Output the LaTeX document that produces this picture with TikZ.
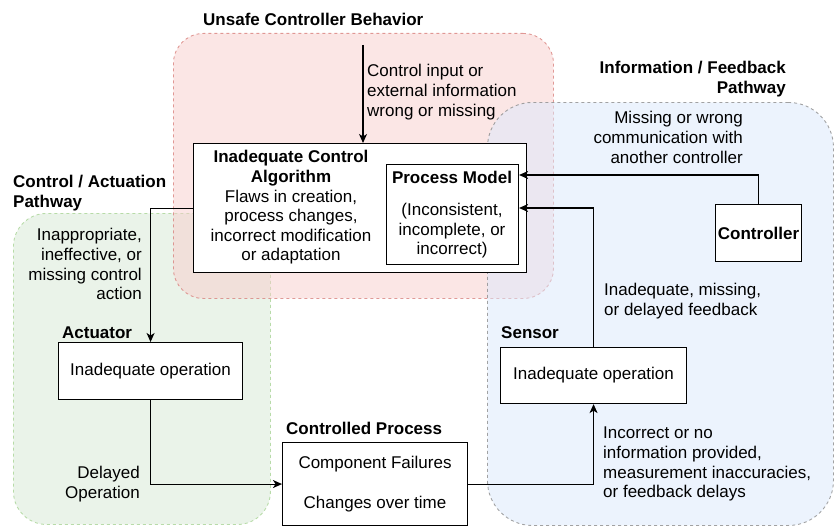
\documentclass[tikz,border=0pt]{standalone}
\usepackage{fontspec}
\setmainfont{Liberation Sans}
\usetikzlibrary{arrows.meta}
\definecolor{redfill}{HTML}{F8CECC}
\definecolor{redline}{HTML}{D9827E}
\definecolor{greenfill}{HTML}{D5E8D4}
\definecolor{greenline}{HTML}{A9D496}
\definecolor{bluefill}{HTML}{DAE8FC}
\definecolor{blueline}{HTML}{8C8C8C}
\newcommand\dfont{\fontsize{17}{19.6}\selectfont}
\begin{document}
\begin{tikzpicture}[x=1pt,y=-1pt,
  region/.style={rectangle, inner sep=0pt, dash pattern=on 3pt off 3pt, line width=0.9pt, fill opacity=0.5, draw opacity=0.8, anchor=north west},
  box/.style={rectangle, draw, line width=1.1pt, fill=white, inner sep=0pt, anchor=north west, font=\dfont, align=center},
  lbl/.style={inner sep=0pt, font=\dfont},
  ttl/.style={inner sep=0pt, font=\dfont\bfseries},
  arr/.style={line width=1.1pt, -{Stealth[length=9pt,width=8pt,inset=2.5pt]}}
]
\useasboundingbox (0,0) rectangle (834,527);

% regions
\node[region, draw=greenline, fill=greenfill, rounded corners=33pt, minimum width=257pt, minimum height=311pt] (regGreen) at (13,213) {};
\node[region, draw=redline, fill=redfill, rounded corners=30pt, minimum width=380pt, minimum height=265pt] (regRed) at (173,33) {};
\node[region, draw=blueline, fill=bluefill, rounded corners=45pt, minimum width=346pt, minimum height=423pt] (regBlue) at (487,102) {};

% region titles
\node[ttl, anchor=north west, align=left] (tUnsafe) at (203,12) {\strut Unsafe Controller Behavior};
\node[ttl, anchor=north west, align=left] (tCtrlPath) at (13,174) {\strut Control / Actuation\\Pathway};
\node[ttl, anchor=north east, align=right] (tInfoPath) at (786,60) {\strut Information / Feedback\\Pathway};

% boxes
\node[box, minimum width=333pt, minimum height=129pt] (alg) at (193,143) {};
\node[lbl, anchor=north, align=center] (algtxt) at (291,149) {\strut\textbf{Inadequate Control}\\\textbf{Algorithm}\\Flaws in creation,\\process changes,\\incorrect modification\\or adaptation};
\node[box, minimum width=132pt, minimum height=100pt] (pm) at (386,164) {};
\node[lbl, anchor=north, align=center] (pmtxt) at (452,170) {\strut\textbf{Process Model}\\[12pt](Inconsistent,\\incomplete, or\\incorrect)};

\node[box, minimum width=86pt, minimum height=57pt, font=\dfont\bfseries] (ctrl) at (715,204) {Controller};

\node[box, minimum width=186pt, minimum height=56pt] (sensor) at (500,347) {Inadequate operation};
\node[ttl, anchor=north west] (tSensor) at (501,325) {\strut Sensor};

\node[box, minimum width=185pt, minimum height=83pt] (cp) at (282,442) {Component Failures\\[20.4pt]Changes over time};
\node[ttl, anchor=north west] (tCP) at (286,421) {\strut Controlled Process};

\node[box, minimum width=184pt, minimum height=57pt] (act) at (58,342) {Inadequate operation};
\node[ttl, anchor=north west] (tAct) at (62,325) {\strut Actuator};

% connector labels
\node[lbl, anchor=north west, align=left] (tCtrlInput) at (367,63) {\strut Control input or\\external information\\wrong or missing};
\node[lbl, anchor=north east, align=right] (tMissing) at (743,110) {\strut Missing or wrong\\communication with\\another controller};
\node[lbl, anchor=north west, align=left] (tFeedback) at (604,282) {\strut Inadequate, missing,\\or delayed feedback};
\node[lbl, anchor=north west, align=left] (tIncorrect) at (603,425) {\strut Incorrect or no\\information provided,\\measurement inaccuracies,\\or feedback delays};
\node[lbl, anchor=north east, align=right] (tInapp) at (142,227) {\strut Inappropriate,\\ineffective, or\\missing control\\action};
\node[lbl, anchor=north east, align=right] (tDelayed) at (140,465) {\strut Delayed\\Operation};

% connectors
\coordinate (cinTop) at (363,45);
\draw[arr] (cinTop) -- (cinTop |- alg.north);
\draw[arr] (ctrl.north) |- ([yshift=-11pt]pm.north east);
\draw[arr] (sensor.north) |- ([yshift=-44pt]pm.north east);
\draw[arr] (cp.east) -| (sensor.south);
\draw[arr] (alg.west) -| (act.north);
\draw[arr] (act.south) |- (cp.west);
\end{tikzpicture}
\end{document}
